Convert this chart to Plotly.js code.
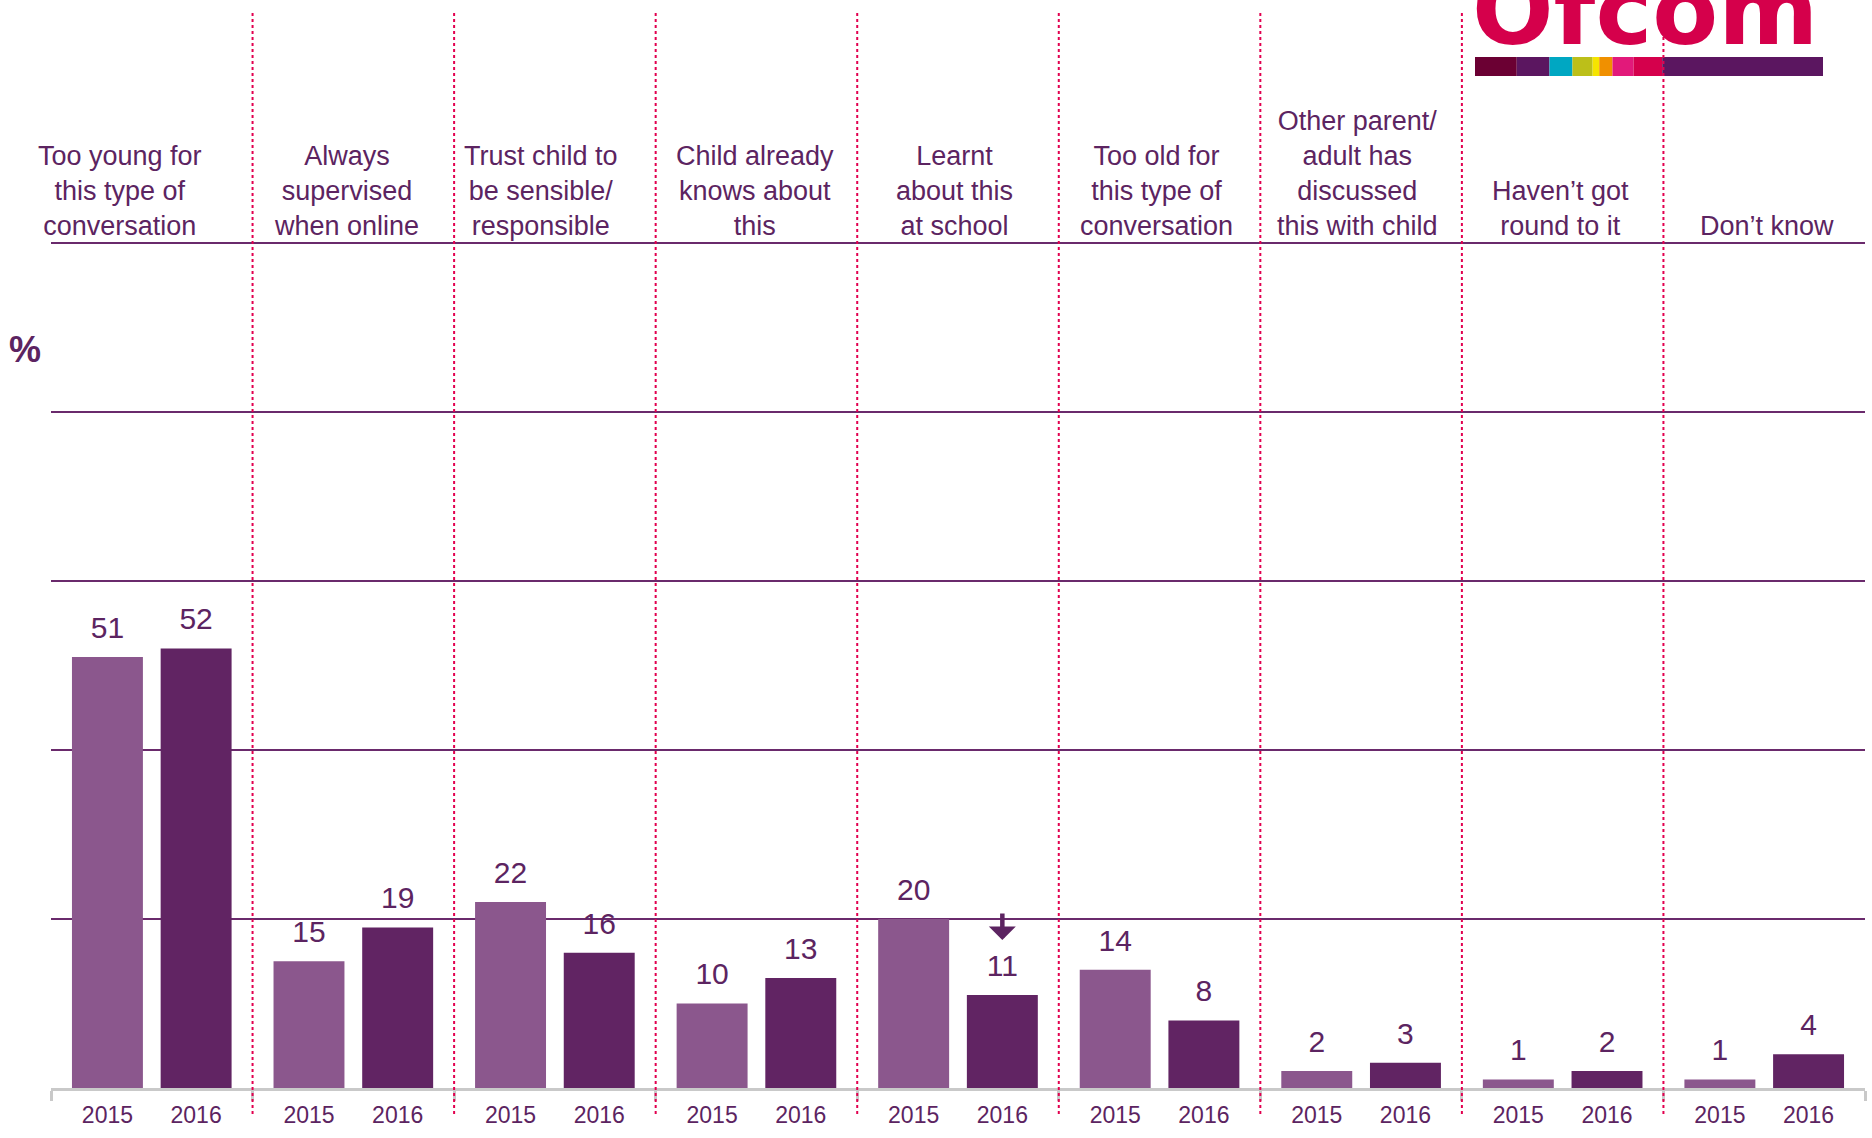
<!DOCTYPE html>
<html><head><meta charset="utf-8">
<script src="https://cdn.plot.ly/plotly-3.0.1.min.js"></script>
<style>html,body{margin:0;padding:0;background:#fff;}#chart{width:1872px;height:1138px;}</style>
</head><body><div id="chart"></div>
<script>
// ---- data ----
const categories = ["Too young for<br>this type of<br>conversation", "Always<br>supervised<br>when online", "Trust child to<br>be sensible/<br>responsible", "Child already<br>knows about<br>this", "Learnt<br>about this<br>at school", "Too old for<br>this type of<br>conversation", "Other parent/<br>adult has<br>discussed<br>this with child", "Haven’t got<br>round to it", "Don’t know"];
const years = ["2015", "2016"];
const values2015 = [51, 15, 22, 10, 20, 14, 2, 1, 1];
const values2016 = [52, 19, 16, 13, 11, 8, 3, 2, 4];
const change2016 = ["", "", "", "", "down", "", "", "", ""];
const gridTicks = [20, 40, 60, 80, 100];

// ---- style ----
const FONT = "Liberation Sans, Arial, sans-serif";
const TXT = "#5c2461";
const C2015 = "#8b578d", C2016 = "#612463";
const BARGAP = 0.12, BARGROUPGAP = 0.2;
const SLOT = (1 - BARGAP) / 2;
const OFFS = [-SLOT / 2, SLOT / 2];
const W = 1872, H = 1138, L = 51, R = 1865, T = 12, B = 1088;
const YMAX = 127.3;
const px2x = p => (p - L) / (R - L);
const px2y = p => (B - p) / (B - T);
const labelShift = [-32, -7, -14, -1, -4, -3, -4, -2, 3];

const n = categories.length;
const idx = categories.map((c, i) => i);
const series = [values2015, values2016];
const colors = [C2015, C2016];

const traces = [];
series.forEach((vals, k) => {
  traces.push({
    type: "bar", name: years[k], x: categories, y: vals,
    marker: {color: colors[k], line: {width: 0}},
    xaxis: "x", yaxis: "y", hoverinfo: "skip", showlegend: false
  });
});
series.forEach((vals, k) => {
  traces.push({
    type: "scatter", mode: "markers+text", x: idx.map(i => i + OFFS[k]), y: vals,
    text: vals.map(String), textposition: "top center",
    textfont: {family: FONT, size: 30, color: TXT},
    marker: {size: 17, opacity: 0}, xaxis: "x2", yaxis: "y",
    hoverinfo: "skip", showlegend: false, cliponaxis: false
  });
});

const tickvals = [], ticktext = [];
idx.forEach(i => years.forEach((y, k) => { tickvals.push(i + OFFS[k]); ticktext.push(y); }));

const shapes = [];
for (let i = 0; i < n - 1; i++) {
  shapes.push({type: "line", xref: "x2", yref: "paper", x0: i + 0.5, x1: i + 0.5,
    y0: px2y(1114), y1: 1, line: {color: "#e2004f", width: 2, dash: "dot"}, layer: "above"});
}
// logo colour strip
const logoSegs = [["#6b0033",0,0.12],["#5b1660",0.12,0.214],["#00a7c2",0.214,0.28],["#bcbf19",0.28,0.338],["#f5e400",0.338,0.357],["#f09000",0.357,0.395],["#e2197a",0.395,0.456],["#d5004c",0.456,0.538],["#5b1660",0.538,1]];
const LX0 = 1475, LX1 = 1823;
logoSegs.forEach(s => {
  shapes.push({type: "rect", xref: "paper", yref: "paper",
    x0: px2x(LX0 + s[1] * (LX1 - LX0)), x1: px2x(LX0 + s[2] * (LX1 - LX0)),
    y0: px2y(76), y1: px2y(57), fillcolor: s[0], line: {width: 0}, layer: "below"});
});

const annotations = categories.map((c, i) => ({
  xref: "x", yref: "y", x: c, y: 100, yanchor: "bottom", xanchor: "center", xshift: labelShift[i],
  text: c, showarrow: false, font: {family: FONT, size: 27, color: TXT}
}));
annotations.push({xref: "paper", yref: "paper", x: px2x(25), y: px2y(350), xanchor: "center", yanchor: "middle",
  text: "<b>%</b>", showarrow: false, font: {family: FONT, size: 36, color: TXT}});
change2016.forEach((c, i) => {
  if (c === "down") {
    annotations.push({xref: "x2", yref: "y", x: i + OFFS[1], y: values2016[i] + 6.5, text: "",
      showarrow: true, ax: 0, ay: -28, arrowhead: 1, arrowsize: 1, arrowwidth: 4.5, arrowcolor: TXT});
  }
});
annotations.push({xref: "paper", yref: "paper", x: px2x(1470), y: px2y(69), xanchor: "left", yanchor: "bottom",
  text: "<b>Ofcom</b>", showarrow: false, font: {family: "DejaVu Sans, sans-serif", size: 96, color: "#d5004b"}});

const layout = {
  width: W, height: H,
  margin: {l: L, r: W - R, t: T, b: H - B, pad: 0},
  paper_bgcolor: "#fff", plot_bgcolor: "#fff",
  barmode: "group", bargap: BARGAP, bargroupgap: BARGROUPGAP,
  showlegend: false,
  xaxis: {type: "category", range: [-0.5, n - 0.5], showline: true, linecolor: "#c9c9c9", linewidth: 3,
    ticks: "outside", tickson: "boundaries", ticklen: 10, tickwidth: 3, tickcolor: "#c9c9c9",
    showticklabels: false, showgrid: false, zeroline: false, fixedrange: true},
  xaxis2: {overlaying: "x", side: "bottom", anchor: "y", type: "linear", range: [-0.5, n - 0.5],
    tickmode: "array", tickvals: tickvals, ticktext: ticktext, ticks: "", showgrid: false, zeroline: false,
    showline: false, tickfont: {family: FONT, size: 23, color: TXT}, ticklabelstandoff: 11, fixedrange: true},
  yaxis: {range: [0, YMAX], tickmode: "array", tickvals: gridTicks, showticklabels: false, ticks: "",
    showgrid: true, gridcolor: "#6a2a6c", gridwidth: 2, zeroline: false, showline: false, fixedrange: true},
  shapes: shapes, annotations: annotations
};

Plotly.newPlot("chart", traces, layout, {displayModeBar: false, staticPlot: true});
</script>
</body></html>
